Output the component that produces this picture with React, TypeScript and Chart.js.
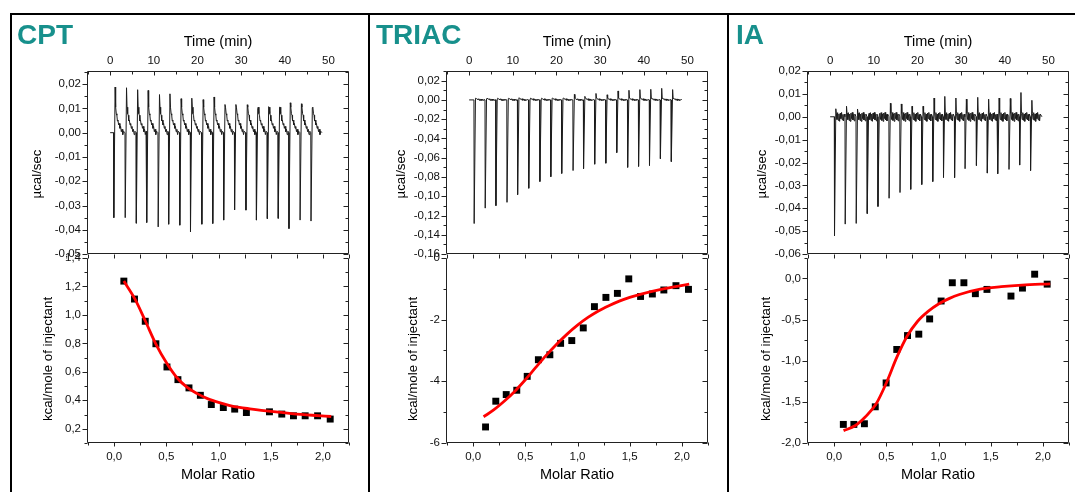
import React, { useEffect, useRef } from "react";
import { Chart, registerables } from "chart.js";
Chart.register(...registerables);

const FONT = '"Liberation Sans", Arial, Helvetica, sans-serif';

// ---------------- CPT ----------------
const cptInjTime = [0.84, 3.45, 6.0, 8.4, 11.0, 13.4, 15.95, 18.4, 21.0, 23.5, 26.0, 28.5, 31.1, 33.5, 36.0, 38.5, 40.95, 43.5, 46.0];
const cptSpikeMin = [-0.035, -0.035, -0.0373, -0.037, -0.0388, -0.0377, -0.0381, -0.0408, -0.0377, -0.0374, -0.036, -0.0318, -0.0319, -0.036, -0.0354, -0.0353, -0.0395, -0.036, -0.0364];
const cptSpikeMax = [0.0188, 0.0185, 0.0177, 0.0174, 0.0157, 0.016, 0.014, 0.0142, 0.0136, 0.0147, 0.0116, 0.0116, 0.0115, 0.01, 0.0107, 0.0105, 0.0123, 0.0119, 0.0103];
const cptTailDt = [0.12, 0.27, 0.4, 0.52, 0.65, 0.8, 0.95, 1.1, 1.25, 1.42, 1.58, 1.75, 1.92];
const cptTailVal = [0.0105, 0.0078, 0.0072, 0.0048, 0.0052, 0.0032, 0.0038, 0.0018, 0.0026, 0.0004, 0.0014, -0.0008, 0.0006];
const cptRatio = [0.093, 0.195, 0.298, 0.4, 0.506, 0.611, 0.717, 0.826, 0.931, 1.046, 1.155, 1.267, 1.488, 1.606, 1.718, 1.83, 1.949, 2.07];
const cptHeat = [1.237, 1.111, 0.955, 0.797, 0.634, 0.545, 0.487, 0.435, 0.37, 0.349, 0.338, 0.314, 0.319, 0.303, 0.291, 0.291, 0.291, 0.268];
const cptFitRatio = [0.093, 0.2, 0.3, 0.4, 0.5, 0.6, 0.7, 0.8, 0.9, 1.0, 1.1, 1.2, 1.3, 1.5, 1.7, 1.9, 2.08];
const cptFitHeat = [1.237, 1.11, 0.955, 0.795, 0.665, 0.56, 0.49, 0.445, 0.41, 0.385, 0.365, 0.35, 0.34, 0.322, 0.307, 0.295, 0.286];

// ---------------- TRIAC ----------------
const triacInjTime = [1.15, 3.68, 6.13, 8.67, 11.1, 13.65, 16.2, 18.7, 21.2, 23.8, 26.2, 28.75, 31.3, 33.8, 36.3, 38.8, 41.3, 43.8, 46.3];
const triacSpikeMin = [-0.1283, -0.1123, -0.1097, -0.1063, -0.0983, -0.0917, -0.0847, -0.0797, -0.0763, -0.0733, -0.0713, -0.0667, -0.0657, -0.0547, -0.07, -0.069, -0.068, -0.061, -0.064];
const triacSpikeMax = [0.0017, 0.001, 0.001, 0.0013, 0.0023, 0.001, 0.001, 0.0017, 0.0017, 0.0057, 0.0037, 0.0067, 0.0053, 0.0093, 0.01, 0.0107, 0.011, 0.012, 0.0107];
const triacTailDt = [0.12, 0.27, 0.42, 0.57, 0.72, 0.87, 1.02, 1.17, 1.32, 1.47, 1.62, 1.77, 1.92];
const triacTailVal = [0.0018, 0.0012, 0.0008, 0.0002, 0.0012, -0.0004, 0.001, -0.0006, 0.0008, -0.0006, 0.0005, -0.0004, 0.0004];
const triacRatio = [0.119, 0.217, 0.317, 0.418, 0.518, 0.625, 0.735, 0.838, 0.945, 1.055, 1.162, 1.272, 1.382, 1.491, 1.604, 1.717, 1.827, 1.943, 2.063];
const triacHeat = [-5.48, -4.645, -4.43, -4.29, -3.84, -3.3, -3.14, -2.77, -2.68, -2.27, -1.58, -1.28, -1.15, -0.68, -1.25, -1.17, -1.04, -0.9, -1.02];
const triacFitRatio = [0.1, 0.2, 0.3, 0.4, 0.5, 0.6, 0.7, 0.8, 0.9, 1.0, 1.1, 1.2, 1.3, 1.4, 1.5, 1.6, 1.8, 2.07];
const triacFitHeat = [-5.15, -4.92, -4.64, -4.32, -3.95, -3.55, -3.16, -2.8, -2.47, -2.18, -1.93, -1.72, -1.55, -1.4, -1.28, -1.18, -1.02, -0.85];

// ---------------- IA ----------------
const iaInjTime = [1.0, 3.45, 5.97, 8.5, 10.95, 13.5, 16.0, 18.45, 20.98, 23.5, 25.96, 28.5, 30.9, 33.5, 36.0, 38.4, 40.96, 43.4, 45.9];
const iaSpikeMin = [-0.052, -0.0469, -0.0466, -0.0423, -0.0392, -0.0356, -0.0331, -0.0317, -0.0296, -0.0283, -0.0265, -0.0266, -0.0227, -0.0213, -0.0246, -0.0249, -0.023, -0.0211, -0.0235];
const iaSpikeMax = [0.0035, 0.0046, 0.0034, 0.001, 0.001, 0.0059, 0.0056, 0.0046, 0.0046, 0.0082, 0.0089, 0.0082, 0.0077, 0.0085, 0.0077, 0.0082, 0.008, 0.0106, 0.0072];
const iaTailDt = [0.12, 0.27, 0.42, 0.57, 0.72, 0.87, 1.02, 1.17, 1.32, 1.47, 1.62, 1.77, 1.92];
const iaTailVal = [0.0015, -0.0012, 0.0018, -0.0016, 0.0012, -0.002, 0.0016, -0.0008, 0.0019, -0.0014, 0.001, -0.0018, 0.0012];
const iaRatio = [0.088, 0.189, 0.29, 0.394, 0.498, 0.6, 0.703, 0.811, 0.915, 1.025, 1.132, 1.243, 1.353, 1.464, 1.694, 1.804, 1.921, 2.041];
const iaHeat = [-1.774, -1.774, -1.766, -1.56, -1.27, -0.863, -0.694, -0.677, -0.492, -0.274, -0.052, -0.052, -0.185, -0.133, -0.214, -0.117, 0.052, -0.069];
const iaFitRatio = [0.09, 0.2, 0.3, 0.4, 0.5, 0.6, 0.7, 0.8, 0.9, 1.0, 1.1, 1.2, 1.4, 1.6, 1.8, 2.07];
const iaFitHeat = [-1.85, -1.79, -1.68, -1.53, -1.27, -0.96, -0.7, -0.52, -0.4, -0.31, -0.245, -0.195, -0.13, -0.1, -0.08, -0.065];

// ---------------- tick labels ----------------
const timeTicks = [0, 10, 20, 30, 40, 50];
const molarTicks = [0, 0.5, 1.0, 1.5, 2.0];
const cptRawTicks = [-0.05, -0.04, -0.03, -0.02, -0.01, 0, 0.01, 0.02];
const cptHeatTicks = [0.2, 0.4, 0.6, 0.8, 1.0, 1.2, 1.4];
const triacRawTicks = [-0.16, -0.14, -0.12, -0.1, -0.08, -0.06, -0.04, -0.02, 0, 0.02];
const triacHeatTicks = [-6, -4, -2, 0];
const iaRawTicks = [-0.06, -0.05, -0.04, -0.03, -0.02, -0.01, 0, 0.01, 0.02];
const iaHeatTicks = [-2.0, -1.5, -1.0, -0.5, 0.0];

type Pt = { x: number; y: number };

function buildTrace(times: number[], mins: number[], maxs: number[], tailDt: number[], tailVal: number[], start: number, end: number): Pt[] {
  const pts: Pt[] = [{ x: start, y: 0 }];
  for (let i = 0; i < times.length; i++) {
    const t = times[i];
    pts.push({ x: t - 0.05, y: 0 });
    pts.push({ x: t, y: mins[i] });
    pts.push({ x: t + 0.3, y: maxs[i] });
    for (let k = 0; k < tailDt.length; k++) pts.push({ x: t + 0.3 + tailDt[k], y: tailVal[k] });
  }
  pts.push({ x: end, y: 0 });
  pts.sort((a, b) => a.x - b.x);
  return pts;
}

function zip(xs: number[], ys: number[]): Pt[] {
  return xs.map((x, i) => ({ x, y: ys[i] }));
}

function fmt(v: number, d: number): string {
  return v.toFixed(d).replace(".", ",");
}

function tickValues(min: number, max: number, step: number): number[] {
  const out: number[] = [];
  const k0 = Math.ceil(min / step - 1e-6);
  const k1 = Math.floor(max / step + 1e-6);
  for (let k = k0; k <= k1; k++) out.push(k * step);
  return out;
}
function isMajor(v: number, major: number): boolean {
  const r = v / major;
  return Math.abs(r - Math.round(r)) < 1e-6;
}

type FrameSpec = {
  yMajor: number;
  yMinor: number;
  xMajor: number;
  xMinor: number;
  kind: "top" | "bottom";
};

function makeFrame(f: FrameSpec) {
  return {
    id: "frame",
    afterDraw(chart: any) {
      const { ctx, chartArea: a } = chart;
      const xs = chart.scales.x;
      const ys = chart.scales.y;
      const L = Math.round(a.left) + 0.5;
      const R = Math.round(a.right) - 0.5;
      const T = Math.round(a.top) + 0.5;
      const B = Math.round(a.bottom) - 0.5;
      ctx.save();
      ctx.strokeStyle = "#222";
      ctx.lineWidth = 1;
      ctx.beginPath();
      if (f.kind === "top") {
        ctx.moveTo(L, T);
        ctx.lineTo(R, T);
      }
      ctx.moveTo(R, T);
      ctx.lineTo(R, B);
      ctx.lineTo(L, B);
      ctx.lineTo(L, T);
      for (const v of tickValues(ys.min, ys.max, f.yMinor)) {
        const y = Math.round(ys.getPixelForValue(v)) + 0.5;
        const len = isMajor(v, f.yMajor) ? 5 : 3;
        ctx.moveTo(L, y);
        ctx.lineTo(L - len, y);
        ctx.moveTo(R, y);
        ctx.lineTo(R - len, y);
      }
      for (const v of tickValues(xs.min, xs.max, f.xMinor)) {
        const x = Math.round(xs.getPixelForValue(v)) + 0.5;
        const len = isMajor(v, f.xMajor) ? 4 : 3;
        if (f.kind === "top") {
          ctx.moveTo(x, T);
          ctx.lineTo(x, T + len);
        } else {
          ctx.moveTo(x, T);
          ctx.lineTo(x, T - 4);
          ctx.moveTo(x, B);
          ctx.lineTo(x, B + len);
        }
      }
      ctx.stroke();
      ctx.restore();
    },
  };
}

type PlotProps = {
  left: number;
  top: number;
  kind: "top" | "bottom";
  datasets: any[];
  xMin: number;
  xMax: number;
  xTicks: number[];
  xDec: number;
  xMajor: number;
  xMinor: number;
  yMin: number;
  yMax: number;
  yTicks: number[];
  yDec: number;
  yMajor: number;
  yMinor: number;
};

const PLOT_W = 262;
const PLOT_H = 186;
const Y_AXIS_W = 60;

function Plot(p: PlotProps) {
  const ref = useRef<HTMLCanvasElement>(null);
  const isTop = p.kind === "top";
  const padTop = isTop ? 0 : 12;
  const padBottom = isTop ? 10 : 0;
  const xAxisH = isTop ? 30 : 40;
  const w = Y_AXIS_W + PLOT_W + 10;
  const h = isTop ? xAxisH + PLOT_H + padBottom : padTop + PLOT_H + xAxisH;
  const canvasLeft = p.left - Y_AXIS_W;
  const canvasTop = isTop ? p.top - xAxisH : p.top - padTop;

  useEffect(() => {
    if (!ref.current) return;
    const tickFont = { family: FONT, size: 11.5 };
    const chart = new Chart(ref.current, {
      type: "line",
      data: { datasets: p.datasets },
      options: {
        responsive: false,
        animation: false,
        events: [],
        layout: { padding: { left: 0, top: padTop, right: 10, bottom: padBottom } },
        plugins: { legend: { display: false }, tooltip: { enabled: false }, title: { display: false } },
        scales: {
          x: {
            type: "linear",
            position: isTop ? "top" : "bottom",
            min: p.xMin,
            max: p.xMax,
            grid: { display: false, drawTicks: false },
            border: { display: false },
            afterBuildTicks: (s: any) => {
              s.ticks = p.xTicks.map((v) => ({ value: v }));
            },
            afterFit: (s: any) => {
              s.height = xAxisH;
            },
            ticks: {
              autoSkip: false,
              maxRotation: 0,
              padding: isTop ? 3 : 7,
              font: tickFont,
              color: "#111",
              callback: (v: any) => fmt(Number(v), p.xDec),
            },
          },
          y: {
            type: "linear",
            position: "left",
            min: p.yMin,
            max: p.yMax,
            grid: { display: false, drawTicks: false },
            border: { display: false },
            afterBuildTicks: (s: any) => {
              s.ticks = p.yTicks.map((v) => ({ value: v }));
            },
            afterFit: (s: any) => {
              s.width = Y_AXIS_W;
            },
            ticks: {
              autoSkip: false,
              padding: 6,
              font: tickFont,
              color: "#111",
              callback: (v: any) => fmt(Number(v), p.yDec),
            },
          },
        },
      } as any,
      plugins: [makeFrame({ yMajor: p.yMajor, yMinor: p.yMinor, xMajor: p.xMajor, xMinor: p.xMinor, kind: p.kind })],
    });
    return () => chart.destroy();
  }, []);

  return (
    <canvas
      ref={ref}
      width={w}
      height={h}
      style={{ position: "absolute", left: canvasLeft, top: canvasTop, width: w, height: h }}
    />
  );
}

function traceDataset(data: Pt[]) {
  return {
    data,
    borderColor: "#1c1c1c",
    borderWidth: 1,
    pointRadius: 0,
    tension: 0,
    fill: false,
  };
}
function fitDataset(data: Pt[]) {
  return {
    data,
    borderColor: "#ff0000",
    borderWidth: 2.8,
    pointRadius: 0,
    cubicInterpolationMode: "monotone",
    fill: false,
    order: 0,
  };
}
function pointDataset(data: Pt[]) {
  return {
    data,
    showLine: false,
    pointStyle: "rect",
    pointRadius: 4.9,
    backgroundColor: "#000",
    borderColor: "#000",
    borderWidth: 0,
    order: 1,
  };
}

type Panel = {
  name: string;
  dx: number;
  titleLeft: number;
  trace: Pt[];
  rawMin: number;
  rawMax: number;
  rawTicks: number[];
  rawMajor: number;
  rawMinor: number;
  heatMin: number;
  heatMax: number;
  heatTicks: number[];
  heatDec: number;
  heatMajor: number;
  heatMinor: number;
  points: Pt[];
  fit: Pt[];
  ylab1X: number;
  ylab2X: number;
};

const panels: Panel[] = [
  {
    name: "CPT",
    dx: 0,
    titleLeft: 17,
    trace: buildTrace(cptInjTime, cptSpikeMin, cptSpikeMax, cptTailDt, cptTailVal, 0, 48.5),
    rawMin: -0.05,
    rawMax: 0.0254,
    rawTicks: cptRawTicks,
    rawMajor: 0.01,
    rawMinor: 0.005,
    heatMin: 0.1,
    heatMax: 1.4,
    heatTicks: cptHeatTicks,
    heatDec: 1,
    heatMajor: 0.2,
    heatMinor: 0.1,
    points: zip(cptRatio, cptHeat),
    fit: zip(cptFitRatio, cptFitHeat),
    ylab1X: 37,
    ylab2X: 48,
  },
  {
    name: "TRIAC",
    dx: 359,
    titleLeft: 376,
    trace: buildTrace(triacInjTime, triacSpikeMin, triacSpikeMax, triacTailDt, triacTailVal, 0, 48.6),
    rawMin: -0.16,
    rawMax: 0.03,
    rawTicks: triacRawTicks,
    rawMajor: 0.02,
    rawMinor: 0.01,
    heatMin: -6,
    heatMax: 0,
    heatTicks: triacHeatTicks,
    heatDec: 0,
    heatMajor: 2,
    heatMinor: 1,
    points: zip(triacRatio, triacHeat),
    fit: zip(triacFitRatio, triacFitHeat),
    ylab1X: 401,
    ylab2X: 413,
  },
  {
    name: "IA",
    dx: 720,
    titleLeft: 736,
    trace: buildTrace(iaInjTime, iaSpikeMin, iaSpikeMax, iaTailDt, iaTailVal, 0, 48.5),
    rawMin: -0.06,
    rawMax: 0.02,
    rawTicks: iaRawTicks,
    rawMajor: 0.01,
    rawMinor: 0.005,
    heatMin: -2.0,
    heatMax: 0.25,
    heatTicks: iaHeatTicks,
    heatDec: 1,
    heatMajor: 0.5,
    heatMinor: 0.25,
    points: zip(iaRatio, iaHeat),
    fit: zip(iaFitRatio, iaFitHeat),
    ylab1X: 762,
    ylab2X: 765.5,
  },
];

const PLOT_LEFT = 87;
const TOP_PLOT_TOP = 71;
const BOTTOM_PLOT_TOP = 257;

const textBase: React.CSSProperties = {
  position: "absolute",
  fontFamily: FONT,
  color: "#000",
  whiteSpace: "nowrap",
};

export default function App() {
  return (
    <div style={{ position: "fixed", left: 0, top: 0, width: 1075, height: 492, background: "#fff", overflow: "hidden" }}>
      {/* outer box */}
      <div style={{ position: "absolute", left: 10, top: 13, width: 1065, height: 2, background: "#000" }} />
      <div style={{ position: "absolute", left: 10, top: 13, width: 2, height: 479, background: "#000" }} />
      <div style={{ position: "absolute", left: 368, top: 13, width: 2, height: 479, background: "#000" }} />
      <div style={{ position: "absolute", left: 727, top: 13, width: 2, height: 479, background: "#000" }} />

      {panels.map((pn) => {
        const L = PLOT_LEFT + pn.dx;
        const cx = L + PLOT_W / 2;
        return (
          <React.Fragment key={pn.name}>
            <Plot
              left={L}
              top={TOP_PLOT_TOP}
              kind="top"
              datasets={[traceDataset(pn.trace)]}
              xMin={-5.3}
              xMax={54.7}
              xTicks={timeTicks}
              xDec={0}
              xMajor={10}
              xMinor={5}
              yMin={pn.rawMin}
              yMax={pn.rawMax}
              yTicks={pn.rawTicks}
              yDec={2}
              yMajor={pn.rawMajor}
              yMinor={pn.rawMinor}
            />
            <Plot
              left={L}
              top={BOTTOM_PLOT_TOP}
              kind="bottom"
              datasets={[fitDataset(pn.fit), pointDataset(pn.points)]}
              xMin={-0.26}
              xMax={2.25}
              xTicks={molarTicks}
              xDec={1}
              xMajor={0.5}
              xMinor={0.25}
              yMin={pn.heatMin}
              yMax={pn.heatMax}
              yTicks={pn.heatTicks}
              yDec={pn.heatDec}
              yMajor={pn.heatMajor}
              yMinor={pn.heatMinor}
            />
            <div
              style={{
                ...textBase,
                left: pn.titleLeft,
                top: 21,
                fontSize: 28,
                lineHeight: "28px",
                fontWeight: "bold",
                color: "#17908c",
              }}
            >
              {pn.name}
            </div>
            <div
              style={{
                ...textBase,
                left: cx,
                top: 40.5,
                fontSize: 14.5,
                lineHeight: "16px",
                transform: "translate(-50%, -50%)",
              }}
            >
              Time (min)
            </div>
            <div
              style={{
                ...textBase,
                left: cx,
                top: 473.5,
                fontSize: 14.5,
                lineHeight: "16px",
                transform: "translate(-50%, -50%)",
              }}
            >
              Molar Ratio
            </div>
            <div
              style={{
                ...textBase,
                left: pn.ylab1X,
                top: 174,
                fontSize: 13.3,
                lineHeight: "16px",
                transform: "translate(-50%, -50%) rotate(-90deg)",
              }}
            >
              µcal/sec
            </div>
            <div
              style={{
                ...textBase,
                left: pn.ylab2X,
                top: 358.5,
                fontSize: 13.3,
                lineHeight: "16px",
                transform: "translate(-50%, -50%) rotate(-90deg)",
              }}
            >
              kcal/mole of injectant
            </div>
          </React.Fragment>
        );
      })}
    </div>
  );
}
